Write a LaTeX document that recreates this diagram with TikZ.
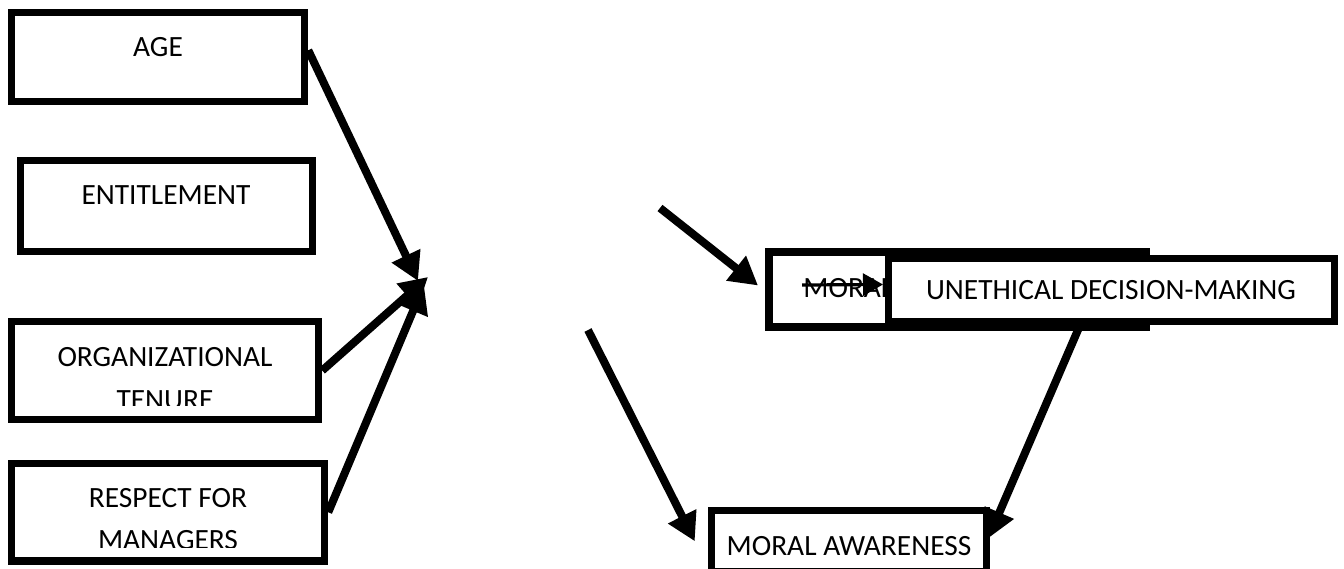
\documentclass[tikz,border=0pt]{standalone}
\usepackage{fontspec}
\setmainfont{Carlito}
\usetikzlibrary{arrows.meta,fit,calc}
\begin{document}
\begin{tikzpicture}[x=0.5pt,y=-0.5pt,
  box/.style={draw, line width=3.75pt, inner sep=0pt, fill=white},
  lbl/.style={font=\fontsize{14.7}{17}\selectfont, inner sep=0pt, anchor=center},
  bigarrow/.style={line width=4pt, -{Triangle[length=14pt,width=15pt]}},
  smallarrow/.style={line width=1.6pt, -{Triangle[length=10pt,width=11pt]}}
]
\useasboundingbox[fill=white] (0,0) rectangle (1344,568);

% left boxes
\node[box, fit={(11.5,12.5) (304.5,101.5)}] (age) {};
\node[lbl] (agetxt) at (158,47) {AGE};
\node[box, fit={(20.5,160.5) (312.5,251.5)}] (ent) {};
\node[lbl] (enttxt) at (166,195) {ENTITLEMENT};
\node[box, fit={(11.5,321.5) (318.5,419.5)}] (org) {};
\node[lbl] (orgtxt) at (165,357) {ORGANIZATIONAL};
\begin{scope}
  \clip (15,330) rectangle (315,405);
  \node[lbl] (orgtxtb) at (165,400) {TENURE};
\end{scope}
\node[box, fit={(11.5,463.5) (324.5,561)}] (resp) {};
\node[lbl] (resptxt) at (168,498) {RESPECT FOR};
\begin{scope}
  \clip (15,470) rectangle (320,547);
  \node[lbl] (resptxtb) at (168,540) {MANAGERS};
\end{scope}

% right boxes
\node[box, line width=4pt, fit={(769,252) (1146,327)}] (mb) {};
\node[lbl, anchor=west] (mbtxt) at (803,288) {MORAL};
\coordinate (sa) at (802,285);
\draw[smallarrow] (sa) -- ([shift={(-1pt,2.5pt)}]mb.west -| 885,0);
\node[box, fit={(888.5,258.5) (1334.5,321.5)}] (ud) {};
\node[lbl] (udtxt) at (1111,290) {UNETHICAL DECISION-MAKING};
\node[box, fit={(711.5,510.5) (986.5,572)}] (ma) {};
\node[lbl] (matxt) at (849,546) {MORAL AWARENESS};

% left arrows
\coordinate (hubA) at (418,281);
\coordinate (hubB) at (428,277);
\coordinate (hubC) at (424,285);
\draw[bigarrow] ($(age.north east)!0.43!(age.south east)$) -- (hubA);
\draw[bigarrow] (org.east) -- (hubB);
\draw[bigarrow] (resp.east) -- (hubC);

% middle / right arrows
\coordinate (m1) at (660,208);
\coordinate (m2) at (588,330);
\draw[bigarrow] (m1) -- ([shift={(-3.5pt,2pt)}]mb.west);
\draw[bigarrow] (m2) -- ([xshift=-6.5pt]ma.west);
\draw[bigarrow] ([xshift=-15.75pt]ud.south) -- ([shift={(-1pt,1.5pt)}]ma.east);
\end{tikzpicture}
\end{document}
